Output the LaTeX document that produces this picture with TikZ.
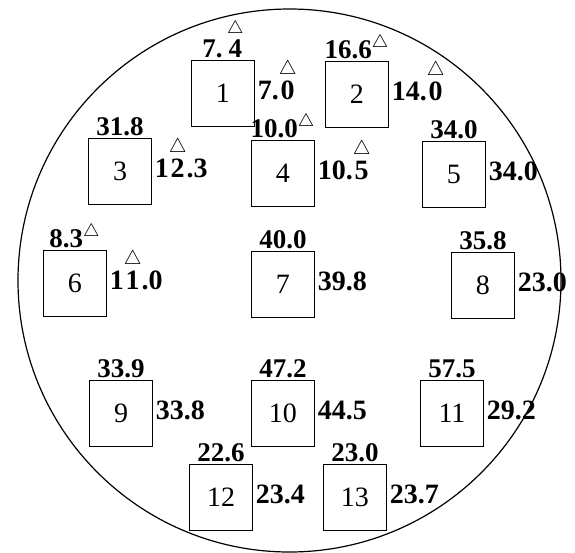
\documentclass[tikz,border=0pt]{standalone}
\usepackage{fontspec}
\setmainfont{Liberation Serif}
\usepackage{tikz}
\usetikzlibrary{positioning}
\tikzset{
  plate/.style={draw=black, rectangle, line width=0.5pt, minimum width=31.5pt, minimum height=33pt, inner sep=0pt, font=\fontsize{14}{16}\selectfont},
  toplbl/.style={inner sep=0.8pt, font=\fontsize{13.5}{16}\selectfont\bfseries},
  sidelbl/.style={inner sep=1.2pt, text height=7pt, text depth=1pt, font=\fontsize{14}{16}\selectfont\bfseries},
  rim/.style={draw=black, line width=0.6pt}
}
\newcommand{\tri}[1]{$\stackrel{\scriptstyle\triangle}{\hbox{#1}}$}
\newcommand{\tup}{$^{\scriptstyle\triangle}$}

\begin{document}
\begin{tikzpicture}[x=0.5pt, y=-0.5pt, node distance=0pt]

\useasboundingbox (0,0) rectangle (575,553);
\draw[rim] (289.5,280.5) circle[radius=135.75pt];

\node[plate] (p1) at (223,93) {1};
\node[plate] (p2) at (357,94) {2};
\node[plate] (p3) at (120,171) {3};
\node[plate] (p4) at (283,173) {4};
\node[plate] (p5) at (454,174) {5};
\node[plate] (p6) at (75,283) {6};
\node[plate] (p7) at (283,284) {7};
\node[plate] (p8) at (483,285) {8};
\node[plate] (p9) at (121,413) {9};
\node[plate] (p10) at (283,413) {10};
\node[plate] (p11) at (452,413) {11};
\node[plate] (p12) at (221,497) {12};
\node[plate] (p13) at (355,497) {13};

% upper values
\node[toplbl, above=of p1] (t1) {7.\,\tri{4}};
\node[toplbl, above=of p2] (t2) {16.6\tup};
\node[toplbl, above=of p3] (t3) {31.8};
\node[toplbl, above=of p4] (t4) {10.0\tup};
\node[toplbl, above=of p5] (t5) {34.0};
\node[toplbl, above=of p6] (t6) {8.3\tup};
\node[toplbl, above=of p7] (t7) {40.0};
\node[toplbl, above=of p8] (t8) {35.8};
\node[toplbl, above=of p9] (t9) {33.9};
\node[toplbl, above=of p10] (t10) {47.2};
\node[toplbl, above=of p11] (t11) {57.5};
\node[toplbl, above=of p12] (t12) {22.6};
\node[toplbl, above=of p13] (t13) {23.0};

% side values
\node[sidelbl, right=of p1] (s1) {7.\tri{0}};
\node[sidelbl, right=of p2] (s2) {14.\tri{0}};
\node[sidelbl, right=of p3] (s3) {1\tri{2}.3};
\node[sidelbl, right=of p4] (s4) {10.\tri{5}};
\node[sidelbl, right=of p5] (s5) {34.0};
\node[sidelbl, right=of p6] (s6) {1\tri{1}.0};
\node[sidelbl, right=of p7] (s7) {39.8};
\node[sidelbl, right=of p8] (s8) {23.0};
\node[sidelbl, right=of p9] (s9) {33.8};
\node[sidelbl, right=of p10] (s10) {44.5};
\node[sidelbl, right=of p11] (s11) {29.2};
\node[sidelbl, right=of p12] (s12) {23.4};
\node[sidelbl, right=of p13] (s13) {23.7};

\end{tikzpicture}
\end{document}
